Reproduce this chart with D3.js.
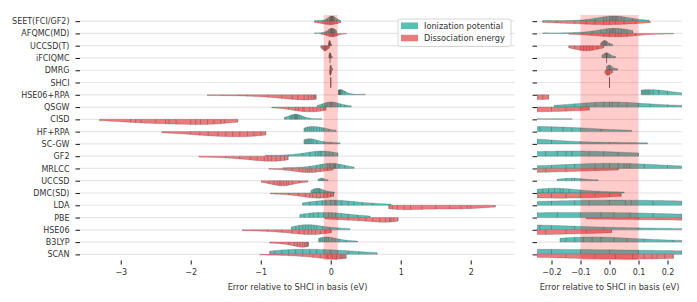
<!DOCTYPE html>
<html>
<head>
<meta charset="utf-8">
<script src="https://cdn.jsdelivr.net/npm/d3@7"></script>
<style>
  body { margin: 0; background: #fff; }
  svg { display: block; font-family: "DejaVu Sans", sans-serif; }
</style>
</head>
<body>
<svg id="chart" width="697" height="302"></svg>
<script>
// split violins (IP en haut, DE en bas) + zoom sur [-0.25, 0.25]
const METHODS = [
  "SEET(FCI/GF2)", "AFQMC(MD)", "UCCSD(T)", "iFCIQMC", "DMRG", "SHCI", "HSE06+RPA", "QSGW",
  "CISD", "HF+RPA", "SC-GW", "GF2", "MRLCC", "UCCSD", "DMC(SD)", "LDA", "PBE", "HSE06", "B3LYP", "SCAN",
];

// erreurs (eV), une liste par méthode
const IONIZATION = [
  [-0.23, -0.1, -0.05, -0.02, -0.01, 0.0, 0.005, 0.01, 0.015, 0.02, 0.025, 0.03, 0.04, 0.05, 0.08, 0.135],
  [-0.23, -0.12, -0.06, -0.03, -0.01, 0.0, 0.005, 0.01, 0.015, 0.02, 0.03, 0.04, 0.05, 0.06, 0.08],
  [-0.03, -0.025, -0.02, -0.018, -0.015, -0.012, -0.01, 0.0, 0.01],
  [-0.025, -0.015, -0.01, -0.008, 0.0, 0.02],
  [-0.01, -0.002, 0.0, 0.004, 0.027],
  [0],
  [0.11, 0.115, 0.12, 0.125, 0.13, 0.135, 0.14, 0.15, 0.17, 0.2, 0.3, 0.49],
  [-0.19, -0.12, -0.08, -0.05, -0.02, 0.0, 0.01, 0.03, 0.06, 0.1, 0.14, 0.2, 0.29],
  [-0.66, -0.64, -0.58, -0.56, -0.54, -0.52, -0.51, -0.5, -0.49, -0.48, -0.47, -0.45, -0.42, -0.38, -0.3, -0.13],
  [-0.38, -0.36, -0.33, -0.3, -0.27, -0.24, -0.2, -0.16, -0.13, -0.1, -0.03, 0.075],
  [-0.38, -0.36, -0.34, -0.32, -0.3, -0.28, -0.25, -0.2, -0.1, 0.0, 0.13],
  [-0.93, -0.6, -0.4, -0.3, -0.22, -0.18, -0.15, -0.13, -0.07, -0.02, 0.03, 0.1],
  [-0.68, -0.45, -0.3, -0.2, -0.15, -0.12, -0.05, -0.02, 0.0, 0.03, 0.05, 0.06, 0.07, 0.12, 0.2, 0.33],
  [-0.18, -0.15, -0.13, -0.12, -0.1, -0.04],
  [-0.28, -0.25, -0.23, -0.21, -0.19, -0.17, -0.16, -0.14, -0.1, -0.04, 0.05],
  [-0.4, -0.3, -0.2, -0.12, -0.07, 0.0, 0.055, 0.075, 0.15, 0.25, 0.33, 0.45, 0.6, 0.86],
  [-0.44, -0.38, -0.3, -0.25, -0.18, -0.1, -0.03, 0.015, 0.07, 0.15, 0.25, 0.38, 0.56],
  [-0.56, -0.5, -0.45, -0.4, -0.36, -0.32, -0.28, -0.24, -0.2, -0.12, -0.02, 0.1, 0.27],
  [-0.17, -0.15, -0.12, -0.09, -0.06, -0.03, 0.015, 0.06, 0.12, 0.22, 0.38],
  [-0.87, -0.8, -0.7, -0.6, -0.5, -0.4, -0.3, -0.2, -0.1, 0.0, 0.1, 0.25, 0.4, 0.66],
];

const DISSOCIATION = [
  [-0.23, -0.18, -0.12, -0.08, -0.05, -0.02, 0.0, 0.02, 0.05, 0.09, 0.14],
  [-0.14, -0.06, -0.02, 0.0, 0.02, 0.03, 0.04, 0.06, 0.09, 0.22],
  [-0.14, -0.12, -0.1, -0.09, -0.08, -0.07, -0.06, -0.04, -0.02],
  [-0.01],
  [-0.015, -0.008, -0.005, 0.0, 0.01],
  [0],
  [-1.76, -1.2, -0.9, -0.7, -0.55, -0.47, -0.38, -0.32, -0.28, -0.25, -0.23, -0.21],
  [-0.84, -0.6, -0.5, -0.46, -0.4, -0.38, -0.3, -0.25, -0.2, -0.15, -0.1, -0.07],
  [-3.3, -2.86, -2.79, -2.71, -2.5, -2.36, -2.31, -2.21, -2.0, -1.93, -1.86, -1.76, -1.67, -1.57, -1.52, -1.33],
  [-2.41, -2.0, -1.87, -1.75, -1.61, -1.5, -1.4, -1.3, -1.19, -1.1, -1.0, -0.93],
  [],
  [-1.88, -1.5, -1.3, -1.15, -1.05, -0.95, -0.9, -0.85, -0.78, -0.72, -0.66, -0.61],
  [-0.88, -0.65, -0.55, -0.45, -0.4, -0.36, -0.33, -0.3, -0.27, -0.22, -0.15, -0.05, 0.03],
  [-0.99, -0.88, -0.81, -0.76, -0.73, -0.71, -0.67, -0.63, -0.6, -0.55, -0.45, -0.33],
  [-0.86, -0.6, -0.46, -0.36, -0.3, -0.26, -0.2, -0.15, -0.1, -0.05, 0.0, 0.04],
  [0.83, 0.88, 0.95, 1.05, 1.14, 1.3, 1.5, 1.7, 1.86, 1.95, 2.0, 2.35],
  [-0.08, 0.1, 0.25, 0.4, 0.5, 0.6, 0.7, 0.78, 0.84, 0.86, 0.9, 0.96],
  [-1.26, -0.9, -0.7, -0.55, -0.45, -0.38, -0.32, -0.27, -0.22, -0.15, -0.08, 0.007],
  [-0.87, -0.7, -0.6, -0.52, -0.48, -0.44, -0.4, -0.37, -0.35, -0.33, -0.32],
  [-1.01, -0.6, -0.4, -0.25, -0.15, -0.05, 0.02, 0.08, 0.12, 0.147, 0.164, 0.19, 0.22],
];

const SERIES = ["Ionization potential", "Dissociation energy"];
const SERIES_DATA = [IONIZATION, DISSOCIATION];
const COLORS = ["#5bbdb3", "#ec7a7c"];
const LEFT_TICKS = [-3, -2, -1, 0, 1, 2];
const RIGHT_TICKS = [-0.2, -0.1, 0, 0.1, 0.2];
const ZOOM_DOMAIN = [-0.25, 0.25];
const TARGET_BAND = [-0.1, 0.1];
const X_LABEL = "Error relative to SHCI in basis (eV)";

const TEXT = "#333333";
const STICK = "#555555";
const TOP = 15;
const BOTTOM = 260.5;

const svg = d3.select("#chart");

const y = d3.scalePoint().domain(METHODS).range([TOP, BOTTOM]).padding(0.5);
const half = y.step() * 0.42;

// domaine auto du panneau gauche : étendue des données + 5 %
const allValues = IONIZATION.flat().concat(DISSOCIATION.flat());
const [lo, hi] = d3.extent(allValues);
const pad = (hi - lo) * 0.05;

const PANELS = [
  { id: "left", x0: 80, x1: 515, domain: [lo - pad, hi + pad], ticks: LEFT_TICKS, fmt: d3.format("d"), main: true },
  { id: "right", x0: 537, x1: 682, domain: ZOOM_DOMAIN, ticks: RIGHT_TICKS, fmt: d3.format(".1f"), main: false },
];

// kde gaussienne, bande de Scott, coupée au min/max (cut = 0)
function density(values) {
  const n = values.length;
  const sd = n > 1 ? d3.deviation(values) : 0;
  if (!sd) {
    return null;
  }
  const h = sd * Math.pow(n, -0.2);
  const raw = (g) => d3.sum(values, (v) => Math.exp(-0.5 * ((g - v) / h) ** 2));
  const [a, b] = d3.extent(values);
  const grid = d3.range(100).map((i) => a + ((b - a) * i) / 99);
  const dens = grid.map(raw);
  const max = d3.max(dens);
  return {
    curve: grid.map((g, i) => [g, dens[i] / max]),
    at: (v) => Math.min(1, raw(v) / max),
  };
}

PANELS.forEach((p) => {
  const x = d3.scaleLinear().domain(p.domain).range([p.x0, p.x1]);
  const g = svg.append("g").attr("class", `panel-${p.id}`);

  g.append("clipPath")
    .attr("id", `clip-${p.id}`)
    .append("rect")
    .attr("x", p.x0)
    .attr("y", TOP)
    .attr("width", p.x1 - p.x0)
    .attr("height", BOTTOM - TOP);

  g.append("g")
    .selectAll("line")
    .data(METHODS)
    .join("line")
    .attr("x1", p.x0)
    .attr("x2", p.x1)
    .attr("y1", (d) => y(d))
    .attr("y2", (d) => y(d))
    .attr("stroke", "#e6e6e6")
    .attr("stroke-width", 1.2);

  const plot = g.append("g").attr("clip-path", `url(#clip-${p.id})`);

  METHODS.forEach((m, i) => {
    const cy = y(m);
    const counts = SERIES_DATA.map((s) => s[i].length);
    const maxCount = d3.max(counts);
    SERIES_DATA.forEach((s, j) => {
      const values = s[i];
      if (!values.length) {
        return;
      }
      const sign = j === 0 ? -1 : 1;
      const k = density(values);
      if (!k) {
        // une seule valeur distincte : simple trait
        plot.append("line")
          .attr("x1", x(values[0]))
          .attr("x2", x(values[0]))
          .attr("y1", cy - half)
          .attr("y2", cy + half)
          .attr("stroke", STICK)
          .attr("stroke-width", 0.8);
        return;
      }
      const amp = half * (counts[j] / maxCount);
      const area = d3.area()
        .x((d) => x(d[0]))
        .y0(cy)
        .y1((d) => cy + sign * d[1] * amp);
      plot.append("path")
        .datum(k.curve)
        .attr("d", area)
        .attr("fill", COLORS[j])
        .attr("stroke", STICK)
        .attr("stroke-opacity", 0.5)
        .attr("stroke-width", 0.5);
      plot.append("g")
        .selectAll("line")
        .data(values)
        .join("line")
        .attr("x1", (v) => x(v))
        .attr("x2", (v) => x(v))
        .attr("y1", cy)
        .attr("y2", (v) => cy + sign * k.at(v) * amp)
        .attr("stroke", STICK)
        .attr("stroke-opacity", 0.75)
        .attr("stroke-width", 0.6);
    });
  });

  // zone ±0.1 eV par-dessus les violons
  plot.append("rect")
    .attr("x", x(TARGET_BAND[0]))
    .attr("y", TOP)
    .attr("width", x(TARGET_BAND[1]) - x(TARGET_BAND[0]))
    .attr("height", BOTTOM - TOP)
    .attr("fill", "red")
    .attr("fill-opacity", 0.2);

  const yAxis = g.append("g")
    .attr("transform", `translate(${p.x0},0)`)
    .call(d3.axisLeft(y).tickSize(4.5).tickPadding(6).tickFormat(p.main ? (d) => d : () => ""));
  const xAxis = g.append("g")
    .attr("transform", `translate(0,${BOTTOM})`)
    .call(d3.axisBottom(x).tickValues(p.ticks).tickFormat(p.fmt).tickSize(4).tickPadding(5));
  [yAxis, xAxis].forEach((ax) => {
    ax.select(".domain").remove();
    ax.selectAll("line").attr("stroke", "#262626").attr("stroke-width", 1.1);
    ax.selectAll("text")
      .attr("fill", TEXT)
      .attr("font-size", 8)
      .attr("font-family", "DejaVu Sans, sans-serif");
  });

  g.append("text")
    .attr("x", (p.x0 + p.x1) / 2)
    .attr("y", 290)
    .attr("text-anchor", "middle")
    .attr("fill", TEXT)
    .attr("font-size", 8.2)
    .text(X_LABEL);

  if (p.main) {
    const lg = g.append("g").attr("transform", `translate(${p.x1 - 117},${TOP + 4})`);
    lg.append("rect")
      .attr("width", 113)
      .attr("height", 27.5)
      .attr("rx", 2)
      .attr("fill", "#fff")
      .attr("fill-opacity", 0.8)
      .attr("stroke", "#cccccc")
      .attr("stroke-width", 0.8);
    SERIES.forEach((name, j) => {
      const row = lg.append("g").attr("transform", `translate(3,${3.5 + j * 12.3})`);
      row.append("rect").attr("width", 17).attr("height", 6.5).attr("fill", COLORS[j]);
      row.append("text")
        .attr("x", 23)
        .attr("y", 3.25)
        .attr("dy", "0.35em")
        .attr("fill", TEXT)
        .attr("font-size", 8.2)
        .text(name);
    });
  }
});
</script>
</body>
</html>
